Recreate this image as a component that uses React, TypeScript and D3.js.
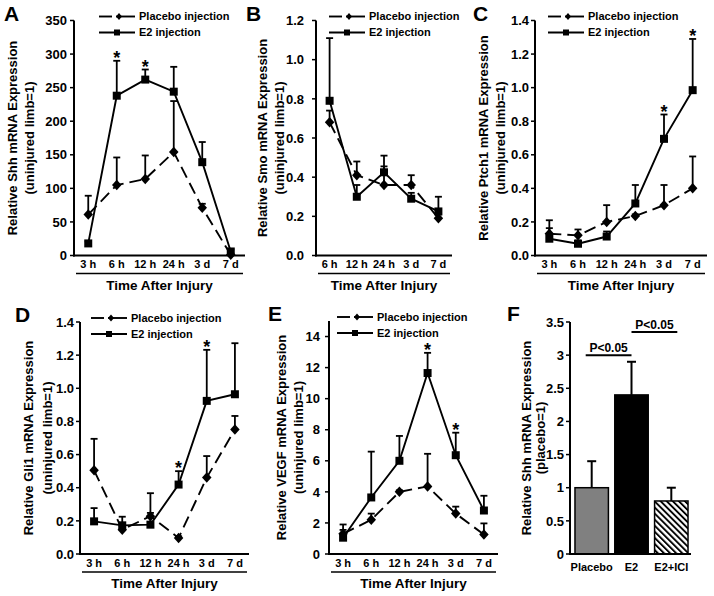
import React from "react";
import * as d3 from "d3";

const FONT = "'Liberation Sans', Arial, Helvetica, sans-serif";

// ---------- categories ----------
const hours6 = ["3 h", "6 h", "12 h", "24 h", "3 d", "7 d"];
const hours5 = ["6 h", "12 h", "24 h", "3 d", "7 d"];
const seriesNames = ["Placebo injection", "E2 injection"];
const xTitle = "Time After Injury";

// ---------- A: Shh ----------
const shhPlacebo = [61, 105, 114, 154, 71, 1];
const shhPlaceboSem = [28, 41, 35, 76, 6, 2];
const shhE2 = [18, 238, 262, 244, 139, 6];
const shhE2Sem = [3, 52, 15, 37, 30, 3];
const shhStars = ["6 h", "12 h"];
const shhTicks = [0, 50, 100, 150, 200, 250, 300, 350];

// ---------- B: Smo ----------
const smoPlacebo = [0.68, 0.41, 0.36, 0.36, 0.19];
const smoPlaceboSem = [0.06, 0.07, 0.095, 0.05, 0.02];
const smoE2 = [0.79, 0.3, 0.425, 0.29, 0.225];
const smoE2Sem = [0.32, 0.06, 0.085, 0.03, 0.075];
const smoStars: string[] = [];
const smoTicks = [0, 0.2, 0.4, 0.6, 0.8, 1.0, 1.2];

// ---------- C: Ptch1 ----------
const ptchPlacebo = [0.13, 0.12, 0.2, 0.235, 0.3, 0.4];
const ptchPlaceboSem = [0.08, 0.035, 0.1, 0.01, 0.12, 0.19];
const ptchE2 = [0.1, 0.07, 0.113, 0.31, 0.695, 0.985];
const ptchE2Sem = [0.063, 0.02, 0.03, 0.11, 0.145, 0.305];
const ptchStars = ["3 d", "7 d"];
const ptchTicks = [0, 0.2, 0.4, 0.6, 0.8, 1.0, 1.2, 1.4];

// ---------- D: Gli1 ----------
const gliPlacebo = [0.505, 0.147, 0.228, 0.097, 0.461, 0.751];
const gliPlaceboSem = [0.19, 0.02, 0.02, 0.01, 0.13, 0.082];
const gliE2 = [0.197, 0.173, 0.177, 0.419, 0.924, 0.964];
const gliE2Sem = [0.08, 0.052, 0.19, 0.081, 0.308, 0.308];
const gliStars = ["24 h", "3 d"];
const gliTicks = [0, 0.2, 0.4, 0.6, 0.8, 1.0, 1.2, 1.4];

// ---------- E: VEGF ----------
const vegfPlacebo = [1.3, 2.2, 4.0, 4.35, 2.6, 1.25];
const vegfPlaceboSem = [0.6, 0.4, 0.1, 2.1, 0.45, 0.72];
const vegfE2 = [1.05, 3.64, 6.0, 11.65, 6.36, 2.8];
const vegfE2Sem = [0.5, 2.95, 1.6, 1.3, 1.45, 0.95];
const vegfStars = ["24 h", "3 d"];
const vegfTicks = [0, 2, 4, 6, 8, 10, 12, 14];

// ---------- F: Shh bars ----------
const treatCats = ["Placebo", "E2", "E2+ICI"];
const shhBar = [1.0, 2.4, 0.8];
const shhBarSem = [0.4, 0.5, 0.2];
const shhBarTicks = [0, 0.5, 1, 1.5, 2, 2.5, 3, 3.5];
const sigPairs = [["Placebo", "E2"], ["E2", "E2+ICI"]];
const sigLabels = ["P<0.05", "P<0.05"];
const sigLevels = [3.0, 3.35];

// ---------- layout ----------
type Layout = {
  x0: number; x1: number; yBottom: number; yTop: number;
  t1: number; t2: number; tickPad: number; legendX: number;
  letterX: number; letterY: number;
};

const sq = (cx: number, cy: number, s: number) =>
  `M${cx - s / 2},${cy - s / 2}h${s}v${s}h${-s}Z`;
const dia = (cx: number, cy: number, w: number, h: number) =>
  `M${cx},${cy - h / 2}L${cx + w / 2},${cy}L${cx},${cy + h / 2}L${cx - w / 2},${cy}Z`;

function YAxis({ y, ticks, fmt, L, title }: any) {
  const cy = (L.yBottom + L.yTop) / 2;
  return (
    <g>
      <line x1={L.x0} x2={L.x0} y1={L.yBottom + 1} y2={L.yTop} stroke="#000" strokeWidth={2} />
      {ticks.map((t: number) => (
        <g key={t}>
          <line x1={L.x0 - 4} x2={L.x0} y1={y(t)} y2={y(t)} stroke="#000" strokeWidth={1.5} />
          <text x={L.x0 - L.tickPad} y={y(t)} dy="0.36em" textAnchor="end"
            fontSize={13} fontWeight="bold">{fmt(t)}</text>
        </g>
      ))}
      <text transform={`translate(${L.x0 - L.t1},${cy}) rotate(-90)`} textAnchor="middle"
        dominantBaseline="central" fontSize={13} fontWeight="bold">{title[0]}</text>
      <text transform={`translate(${L.x0 - L.t2},${cy}) rotate(-90)`} textAnchor="middle"
        dominantBaseline="central" fontSize={13} fontWeight="bold">{title[1]}</text>
    </g>
  );
}

function LinePanel(p: any) {
  const L: Layout = p.L;
  const cats: string[] = p.cats;
  const x = d3.scalePoint<string>().domain(cats).range([L.x0, L.x1]).padding(0.5);
  const y = d3.scaleLinear().domain([0, p.yMax]).range([L.yBottom, L.yTop]);
  const line = d3.line<number>().x((_, i) => x(cats[i])!).y((d) => y(d));
  const series = [
    { vals: p.placebo, sem: p.placeboSem, dashed: true, diamond: true },
    { vals: p.e2, sem: p.e2Sem, dashed: false, diamond: false },
  ];
  const r1 = L.yTop - 4;
  const r2 = L.yTop + 12;
  const lx = L.legendX;
  return (
    <g>
      <text x={L.letterX} y={L.letterY} fontSize={21} fontWeight="bold">{p.letter}</text>
      <YAxis y={y} ticks={p.ticks} fmt={p.fmt} L={L} title={p.title} />
      <line x1={L.x0 - 1} x2={L.x1} y1={L.yBottom} y2={L.yBottom} stroke="#000" strokeWidth={2} />
      {cats.map((c) => (
        <text key={c} x={x(c)} y={L.yBottom + 12.5} textAnchor="middle" fontSize={11}
          fontWeight="bold">{c}</text>
      ))}
      <line x1={L.x0 + 2} x2={L.x1 - 2} y1={L.yBottom + 18} y2={L.yBottom + 18}
        stroke="#000" strokeWidth={1.5} />
      <text x={(L.x0 + L.x1) / 2} y={L.yBottom + 34} textAnchor="middle" fontSize={13.5}
        fontWeight="bold">{xTitle}</text>
      {/* error bars */}
      {series.map((s, si) =>
        s.vals.map((v: number, i: number) => {
          const cx = x(cats[i])!;
          const top = y(v + s.sem[i]);
          return (
            <g key={`e${si}-${i}`}>
              <line x1={cx} x2={cx} y1={y(v)} y2={top} stroke="#000" strokeWidth={1.8} />
              <line x1={cx - 3.5} x2={cx + 3.5} y1={top} y2={top} stroke="#000" strokeWidth={1.8} />
            </g>
          );
        })
      )}
      {/* lines */}
      {series.map((s, si) => (
        <path key={`l${si}`} d={line(s.vals)!} fill="none" stroke="#000" strokeWidth={1.9}
          strokeDasharray={s.dashed ? "12,6" : undefined} />
      ))}
      {/* markers */}
      {series.map((s, si) =>
        s.vals.map((v: number, i: number) => {
          const cx = x(cats[i])!;
          const cy = y(v);
          return (
            <path key={`m${si}-${i}`} d={s.diamond ? dia(cx, cy, 9.5, 10.5) : sq(cx, cy, 8)} fill="#000" />
          );
        })
      )}
      {/* stars */}
      {p.stars.map((c: string) => {
        const i = cats.indexOf(c);
        const topVal = Math.max(p.placebo[i] + p.placeboSem[i], p.e2[i] + p.e2Sem[i]);
        return (
          <text key={`s${c}`} x={x(c)} y={y(topVal) + 3} textAnchor="middle" fontSize={18}
            fontWeight="bold">*</text>
        );
      })}
      {/* legend */}
      <line x1={lx} x2={lx + 13} y1={r1} y2={r1} stroke="#000" strokeWidth={1.9} />
      <line x1={lx + 17} x2={lx + 36} y1={r1} y2={r1} stroke="#000" strokeWidth={1.9} />
      <path d={dia(lx + 20, r1, 6, 7)} fill="#000" />
      <text x={lx + 40} y={r1} dy="0.36em" fontSize={11} fontWeight="bold">{seriesNames[0]}</text>
      <line x1={lx} x2={lx + 36} y1={r2} y2={r2} stroke="#000" strokeWidth={1.9} />
      <path d={sq(lx + 18, r2, 6)} fill="#000" />
      <text x={lx + 40} y={r2} dy="0.36em" fontSize={11} fontWeight="bold">{seriesNames[1]}</text>
    </g>
  );
}

function BarPanel(p: any) {
  const L: Layout = p.L;
  const x = d3.scaleBand<string>().domain(treatCats).range([L.x0 + 1, L.x1 + 1])
    .paddingInner(0.16).paddingOuter(0.1);
  const y = d3.scaleLinear().domain([0, 3.5]).range([L.yBottom, L.yTop]);
  const fills = ["#808080", "#000000", "url(#hatch)"];
  const bw = x.bandwidth();
  return (
    <g>
      <defs>
        <pattern id="hatch" patternUnits="userSpaceOnUse" width={4.3} height={10}
          patternTransform="rotate(-45)">
          <rect width={4.3} height={10} fill="#fff" />
          <rect width={1.9} height={10} fill="#000" />
        </pattern>
      </defs>
      <text x={L.letterX} y={L.letterY} fontSize={21} fontWeight="bold">F</text>
      <YAxis y={y} ticks={shhBarTicks} fmt={(d: number) => String(d)} L={L}
        title={["Relative Shh mRNA Expression", "(placebo=1)"]} />
      {treatCats.map((c, i) => {
        const cx = x(c)! + bw / 2;
        const top = y(shhBar[i] + shhBarSem[i]);
        return (
          <g key={c}>
            <line x1={cx} x2={cx} y1={y(shhBar[i])} y2={top} stroke="#000" strokeWidth={2} />
            <line x1={cx - 4.5} x2={cx + 4.5} y1={top} y2={top} stroke="#000" strokeWidth={2} />
            <rect x={x(c)} y={y(shhBar[i])} width={bw} height={L.yBottom - y(shhBar[i])}
              fill={fills[i]} stroke="#000" strokeWidth={1.5} />
            <text x={cx} y={L.yBottom + 16.5} textAnchor="middle" fontSize={11}
              fontWeight="bold">{c}</text>
          </g>
        );
      })}
      <line x1={L.x0 - 1} x2={L.x1} y1={L.yBottom} y2={L.yBottom} stroke="#000" strokeWidth={2} />
      {sigPairs.map((pr, k) => {
        const a = x(pr[0])! + bw / 2;
        const b = x(pr[1])! + bw / 2;
        const left = k === 0 ? a - 6 : a;
        const right = k === 0 ? b : b + 6;
        const yy = y(sigLevels[k]);
        return (
          <g key={k}>
            <line x1={left} x2={right} y1={yy} y2={yy} stroke="#000" strokeWidth={2} />
            <text x={(left + right) / 2} y={yy - 3} textAnchor="middle" fontSize={12}
              fontWeight="bold">{sigLabels[k]}</text>
          </g>
        );
      })}
    </g>
  );
}

const f0 = d3.format("d");
const f1 = d3.format(".1f");

const LA: Layout = { x0: 74, x1: 245, yBottom: 255.5, yTop: 20.5, t1: 62, t2: 45, tickPad: 7, legendX: 99, letterX: 4, letterY: 21 };
const LB: Layout = { x0: 316, x1: 452, yBottom: 255.5, yTop: 20.5, t1: 54, t2: 37, tickPad: 12, legendX: 329, letterX: 246, letterY: 21 };
const LC: Layout = { x0: 535, x1: 707, yBottom: 255.5, yTop: 20.5, t1: 52, t2: 35, tickPad: 6, legendX: 548, letterX: 473, letterY: 21 };
const LD: Layout = { x0: 80, x1: 249, yBottom: 554, yTop: 322, t1: 52, t2: 33, tickPad: 6, legendX: 91, letterX: 15, letterY: 322 };
const LE: Layout = { x0: 329, x1: 498, yBottom: 554, yTop: 321, t1: 48, t2: 31, tickPad: 9, legendX: 337, letterX: 268, letterY: 321 };
const LF: Layout = { x0: 570, x1: 691, yBottom: 554, yTop: 322, t1: 44, t2: 30, tickPad: 6, legendX: 0, letterX: 507, letterY: 321 };

export default function App() {
  return (
    <svg width={714} height={596} style={{ position: "absolute", left: 0, top: 0, background: "#fff" }}
      fontFamily={FONT}>
      <rect width={714} height={596} fill="#fff" />
      <LinePanel letter="A" L={LA} cats={hours6} placebo={shhPlacebo} placeboSem={shhPlaceboSem}
        e2={shhE2} e2Sem={shhE2Sem} stars={shhStars} yMax={350} ticks={shhTicks} fmt={f0}
        title={["Relative Shh mRNA Expression", "(uninjured limb=1)"]} />
      <LinePanel letter="B" L={LB} cats={hours5} placebo={smoPlacebo} placeboSem={smoPlaceboSem}
        e2={smoE2} e2Sem={smoE2Sem} stars={smoStars} yMax={1.2} ticks={smoTicks} fmt={f1}
        title={["Relative Smo mRNA Expression", "(uninjured limb=1)"]} />
      <LinePanel letter="C" L={LC} cats={hours6} placebo={ptchPlacebo} placeboSem={ptchPlaceboSem}
        e2={ptchE2} e2Sem={ptchE2Sem} stars={ptchStars} yMax={1.4} ticks={ptchTicks} fmt={f1}
        title={["Relative Ptch1 mRNA Expression", "(uninjured limb=1)"]} />
      <LinePanel letter="D" L={LD} cats={hours6} placebo={gliPlacebo} placeboSem={gliPlaceboSem}
        e2={gliE2} e2Sem={gliE2Sem} stars={gliStars} yMax={1.4} ticks={gliTicks} fmt={f1}
        title={["Relative Gli1 mRNA Expression", "(uninjured limb=1)"]} />
      <LinePanel letter="E" L={LE} cats={hours6} placebo={vegfPlacebo} placeboSem={vegfPlaceboSem}
        e2={vegfE2} e2Sem={vegfE2Sem} stars={vegfStars} yMax={15} ticks={vegfTicks} fmt={f0}
        title={["Relative VEGF mRNA Expression", "(uninjured limb=1)"]} />
      <BarPanel L={LF} />
    </svg>
  );
}
